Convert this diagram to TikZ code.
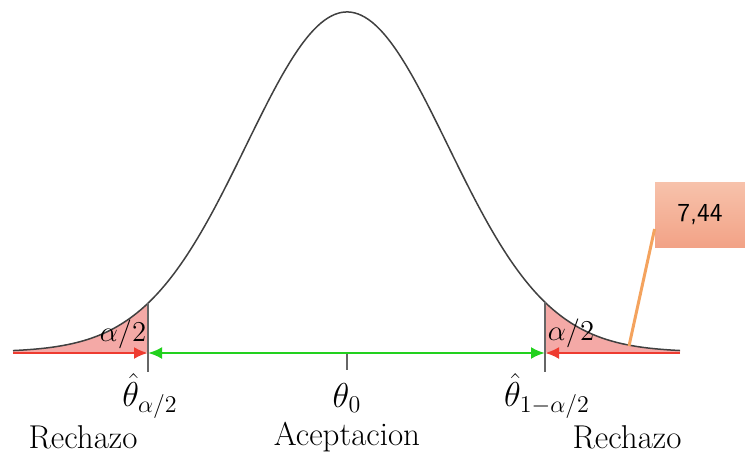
\documentclass[tikz,border=0pt]{standalone}
\usepackage{amsmath,amssymb}
\usepackage{tikz}
\usetikzlibrary{arrows.meta,positioning}

\definecolor{tailred}{HTML}{F4A9A6}
\definecolor{arrred}{HTML}{EE3B30}
\definecolor{arrgreen}{HTML}{22D11E}
\definecolor{boxtop}{HTML}{F7C2AB}
\definecolor{boxbot}{HTML}{F2A286}
\definecolor{calloutc}{HTML}{F4A35E}

\begin{document}
\begin{tikzpicture}[
  x=0.5pt, y=-0.5pt,
  font=\fontsize{16.5}{19}\selectfont,
  curve/.style ={draw=black!75, line width=0.75pt},
  crit/.style  ={draw=black!60, line width=0.6pt},
  redarr/.style={arrred, line width=1.3pt, -{Latex[length=7pt,width=6pt]}},
  grnarr/.style={arrgreen, line width=1.3pt, {Latex[length=7pt,width=6pt]}-{Latex[length=7pt,width=6pt]}},
  lbl/.style   ={inner sep=0pt},
  tail/.style  ={inner sep=0pt, font=\fontsize{15.5}{17}\selectfont},
  valbox/.style={rectangle, top color=boxtop, bottom color=boxbot, draw=none,
                 minimum width=45pt, minimum height=32.5pt,
                 font=\sffamily\fontsize{13}{15}\selectfont},
  callout/.style={calloutc, line width=1.5pt}
]
\useasboundingbox (0,0) rectangle (745,455);

% tails
\fill[tailred] (13,352) -- plot[domain=13:148, samples=60]
  (\x, {352-340*exp(-0.5*((\x-347)/101)^2)}) -- (148,352) -- cycle;
\fill[tailred] (545,352) -- plot[domain=545:680, samples=60]
  (\x, {352-340*exp(-0.5*((\x-347)/101)^2)}) -- (680,352) -- cycle;

% density
\draw[curve] plot[domain=13:680, samples=200, smooth]
  (\x, {352-340*exp(-0.5*((\x-347)/101)^2)});

\coordinate (lend) at (13,353);
\coordinate (rend) at (680,353);
\coordinate (lcrit) at (148,353);
\coordinate (rcrit) at (545,353);
\coordinate (mid) at (347,353);

\draw[crit] (148,{352-340*exp(-0.5*((148-347)/101)^2)}) -- (148,372);
\draw[crit] (545,{352-340*exp(-0.5*((545-347)/101)^2)}) -- (545,372);
\draw[crit] (mid) -- (347,370);

\draw[redarr] (lend) -- (lcrit);
\draw[redarr] (rend) -- (rcrit);
\draw[grnarr] (lcrit) -- (rcrit);

\node[tail] (alpl) at (123,334) {$\alpha/2$};
\node[tail] (alpr) at (571,333) {$\alpha/2$};

\node[lbl] (thl) at (150,396) {$\hat{\theta}_{\alpha/2}$};
\node[lbl] (th0) at (347,398) {$\theta_0$};
\node[lbl] (thr) at (547,396) {$\hat{\theta}_{1-\alpha/2}$};

\node[lbl] (rechl) at (83,437) {Rechazo};
\node[lbl] (acep)  at (347,437) {Aceptacion};
\node[lbl] (rechr) at (627,437) {Rechazo};

\node[valbox] (val) at (700,215) {7,44};
\coordinate (tip) at (629,346);
\draw[callout] ([yshift=-7]val.west) -- (tip);
\end{tikzpicture}
\end{document}
